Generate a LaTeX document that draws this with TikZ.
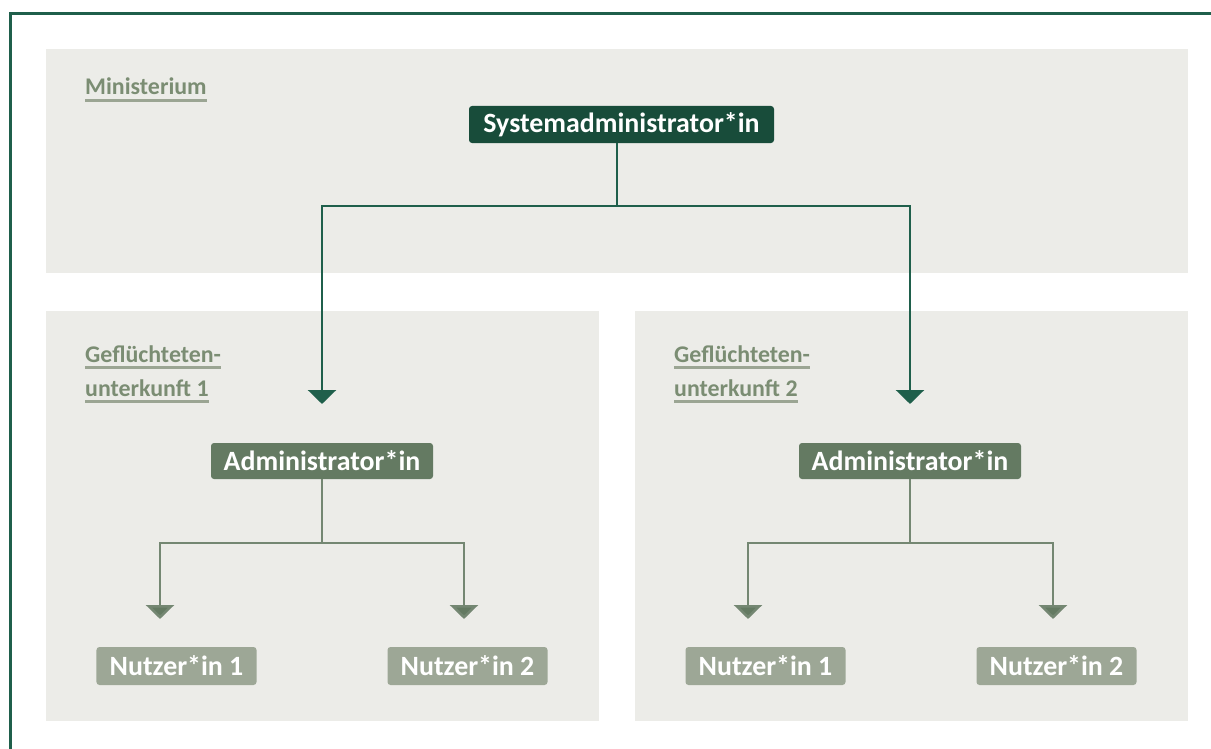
\documentclass[tikz,border=0pt]{standalone}
\usepackage{fontspec}
\setmainfont{Carlito}
\usetikzlibrary{arrows.meta}
\definecolor{gnFrame}{HTML}{1F5F4B}
\definecolor{gnSys}{HTML}{184C3A}
\definecolor{gnAdm}{HTML}{647A62}
\definecolor{gnUsr}{HTML}{9DA796}
\definecolor{gnPanel}{HTML}{ECECE8}
\definecolor{gnLab}{HTML}{7B8D73}
\definecolor{gnLine}{HTML}{9BA593}
\tikzset{
  box/.style={rounded corners=3bp,text=white,font=\bfseries\fontsize{28}{32}\selectfont,inner sep=0pt,align=center},
  sysbox/.style={box,fill=gnSys,minimum width=305bp,minimum height=37bp},
  admbox/.style={box,fill=gnAdm,minimum width=222bp,minimum height=36bp},
  usrbox/.style={box,fill=gnUsr,minimum width=160bp,minimum height=38bp},
  lab/.style={text=gnLab,font=\bfseries\fontsize{24}{28}\selectfont,inner sep=0pt,anchor=base west},
  conn/.style={draw=gnFrame,line width=2.5bp,-{Triangle[width=28bp,length=14bp]}},
  subconn/.style={draw=gnAdm!90!white,line width=2.5bp,-{Triangle[width=28bp,length=14bp,fill=gnAdm]}}
}
\newcommand\ulab[3]{\node[lab] (#1) at (#2){#3};
  \draw[gnLine,line width=2.2bp]([yshift=-5.5bp]#1.base west)--([yshift=-5.5bp]#1.base east);}
\begin{document}
\begin{tikzpicture}[x=1bp,y=-1bp]
\useasboundingbox (0,0) rectangle (1211,749);
\fill[white](0,0)rectangle(1211,749);
\draw[gnFrame,line width=3bp](10.5,749)--(10.5,14)--(1211,14);
% panels
\fill[gnPanel](46,49)rectangle(1188,273);
\fill[gnPanel](46,311)rectangle(599,721);
\fill[gnPanel](635,311)rectangle(1188,721);
% labels
\ulab{labM}{85,95}{Ministerium}
\ulab{labA}{85,362}{Geflüchteten-}
\ulab{labAb}{85,396}{unterkunft 1}
\ulab{labB}{674,362}{Geflüchteten-}
\ulab{labBb}{674,396}{unterkunft 2}
% nodes
\node[sysbox] (sys) at (621.5,124.5){Systemadministrator*in};
\node[admbox] (admA) at (322,461){Administrator*in};
\node[admbox] (admB) at (910,461){Administrator*in};
\node[usrbox] (usrA1) at (176.5,666){Nutzer*in 1};
\node[usrbox] (usrA2) at (467.5,666){Nutzer*in 2};
\node[usrbox] (usrB1) at (765.5,666){Nutzer*in 1};
\node[usrbox] (usrB2) at (1056.5,666){Nutzer*in 2};
% joints and tips
\coordinate (spS) at (617,206);
\coordinate (tipA) at (322,404);\coordinate (tipB) at (910,404);
\coordinate (spA) at (322,543);\coordinate (spB) at (910,543);
\coordinate (tipA1) at (160,619);\coordinate (tipA2) at (464,619);
\coordinate (tipB1) at (748,619);\coordinate (tipB2) at (1053,619);
% connectors
\draw[gnFrame,line width=2.5bp](sys.south-|spS)--(spS);
\draw[conn](spS)-|(tipA);\draw[conn](spS)-|(tipB);
\draw[gnAdm!90!white,line width=2.5bp](admA.south)--(spA);
\draw[gnAdm!90!white,line width=2.5bp](admB.south)--(spB);
\draw[subconn](spA)-|(tipA1);\draw[subconn](spA)-|(tipA2);
\draw[subconn](spB)-|(tipB1);\draw[subconn](spB)-|(tipB2);
\end{tikzpicture}
\end{document}
